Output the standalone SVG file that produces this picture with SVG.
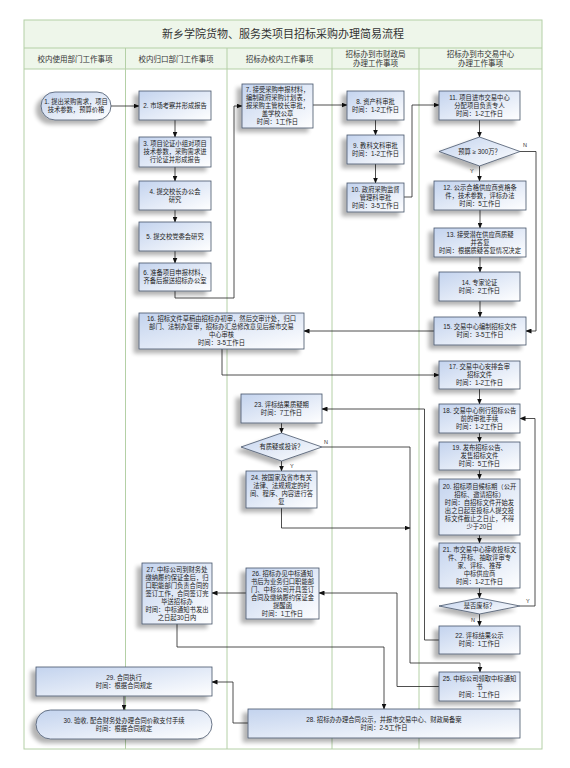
<svg xmlns="http://www.w3.org/2000/svg" width="570" height="768" viewBox="0 0 570 768">
<defs>
<linearGradient id="g" x1="0" y1="0" x2="1" y2="1">
<stop offset="0" stop-color="#c3d3ee"/>
<stop offset="1" stop-color="#ffffff"/>
</linearGradient>
<filter id="sh" x="-30%" y="-30%" width="160%" height="170%">
<feGaussianBlur in="SourceAlpha" stdDeviation="2"/>
<feOffset dx="-5" dy="4" result="b"/>
<feComponentTransfer><feFuncA type="linear" slope="0.3"/></feComponentTransfer>
<feMerge><feMergeNode/><feMergeNode in="SourceGraphic"/></feMerge>
</filter>
<marker id="a" markerWidth="6" markerHeight="5" refX="5.5" refY="2.5" orient="auto" markerUnits="userSpaceOnUse">
<path d="M0,0 L6,2.5 L0,5 Z" fill="#111"/>
</marker>
</defs>
<style>
.n{fill:url(#g);stroke:#46546a;stroke-width:0.8;filter:url(#sh)}
.t{font-family:"Liberation Sans","Noto Sans CJK SC",sans-serif;font-size:6.3px;fill:#222;text-anchor:middle}
.h{font-family:"Liberation Sans","Noto Sans CJK SC",sans-serif;font-size:7.5px;fill:#333;text-anchor:middle}
.l{font-family:"Liberation Sans","Noto Sans CJK SC",sans-serif;font-size:5.5px;fill:#333}
.c{fill:none;stroke:#222;stroke-width:0.8;marker-end:url(#a)}
.lane{stroke:#b4d0a6;stroke-width:1;fill:none}
</style>
<rect width="570" height="768" fill="#ffffff"/>
<g id="frame">
<rect x="24" y="20" width="518" height="28" fill="#eef6ea"/>
<rect x="24" y="48" width="518" height="21" fill="#eef6ea"/>
<rect x="24" y="20" width="518" height="729" class="lane"/>
<line x1="24" y1="48" x2="542" y2="48" class="lane"/>
<line x1="24" y1="69" x2="542" y2="69" class="lane"/>
<line x1="125.5" y1="48" x2="125.5" y2="749" class="lane"/>
<line x1="227" y1="48" x2="227" y2="749" class="lane"/>
<line x1="332" y1="48" x2="332" y2="749" class="lane"/>
<line x1="419" y1="48" x2="419" y2="749" class="lane"/>
<text x="283" y="38" class="h" style="font-size:11px">新乡学院货物、服务类项目招标采购办理简易流程</text>
<text x="75" y="61.5" class="h">校内使用部门工作事项</text>
<text x="176" y="61.5" class="h">校内归口部门工作事项</text>
<text x="279.5" y="61.5" class="h">招标办校内工作事项</text>
<text x="375.5" y="57" class="h">招标办到市财政局</text>
<text x="375.5" y="66" class="h">办理工作事项</text>
<text x="480.5" y="57" class="h">招标办到市交易中心</text>
<text x="480.5" y="66" class="h">办理工作事项</text>
</g>
<g id="connectors">
<polyline class="c" points="111,106 139,106"/>
<polyline class="c" points="175,120 175,137"/>
<polyline class="c" points="175,167 175,181"/>
<polyline class="c" points="175,210 175,222"/>
<polyline class="c" points="175,251 175,263"/>
<polyline class="c" points="175,291 175,298 234,298 234,106 242,106"/>
<polyline class="c" points="313,105 347,105"/>
<polyline class="c" points="375.5,120 375.5,135"/>
<polyline class="c" points="375.5,164 375.5,183"/>
<polyline class="c" points="404,197 412,197 412,105 439,105"/>
<polyline class="c" points="479.5,120 479.5,137"/>
<polyline class="c" points="479.5,166 479.5,181"/>
<polyline class="c" points="520,151.5 536,151.5 536,331 526,331"/>
<polyline class="c" points="480,210 480,228"/>
<polyline class="c" points="480,257 480,272"/>
<polyline class="c" points="480,301 480,317"/>
<polyline class="c" points="434,331 304,331"/>
<polyline class="c" points="222,349 222,375 439,375"/>
<polyline class="c" points="479.5,389 479.5,404"/>
<polyline class="c" points="479.5,433 479.5,442"/>
<polyline class="c" points="479.5,470 479.5,479"/>
<polyline class="c" points="479.5,535 479.5,543"/>
<polyline class="c" points="479.5,588 479.5,598"/>
<polyline class="c" points="520,606 535,606 535,418.5 520,418.5"/>
<polyline class="c" points="479.5,614 479.5,626"/>
<polyline class="c" points="439,640 424.5,640 424.5,409 322,409"/>
<polyline class="c" points="281.5,423 281.5,433"/>
<polyline class="c" points="322,447 410,447 410,663 480,663 480,672"/>
<polyline class="c" points="281.5,461 281.5,471"/>
<polyline class="c" points="281.5,508 281.5,528 410,528"/>
<polyline class="c" points="439,686.5 397,686.5 397,593 319,593"/>
<polyline class="c" points="246,593 212,593"/>
<polyline class="c" points="177,624 177,647 384,647 384,709"/>
<polyline class="c" points="248,723 233,723 233,682 212,682"/>
<polyline class="c" points="124,696 124,710"/>
<text x="470" y="173" class="l">Y</text>
<text x="523" y="147" class="l">N</text>
<text x="526" y="603" class="l">Y</text>
<text x="471" y="622" class="l">N</text>
<text x="324" y="444" class="l">N</text>
<text x="290" y="468" class="l">Y</text>
</g>
<g id="n1"><rect class="n" x="41" y="92" width="70" height="28" rx="14"/><text class="t" x="76" y="104.3">1. 提出采购需求，项目</text><text class="t" x="76" y="112.3">技术参数，预算价格</text></g>
<g id="n2"><rect class="n" x="139" y="91" width="72" height="29"/><text class="t" x="175" y="107.8">2. 市场考察并形成报告</text></g>
<g id="n3"><rect class="n" x="139" y="137" width="72" height="30"/><text class="t" x="175" y="146.3">3. 项目论证小组对项目</text><text class="t" x="175" y="154.3">技术参数，采购需求进</text><text class="t" x="175" y="162.3">行论证并形成报告</text></g>
<g id="n4"><rect class="n" x="139" y="181" width="72" height="29"/><text class="t" x="175" y="193.8">4. 提交校长办公会</text><text class="t" x="175" y="201.8">研究</text></g>
<g id="n5"><rect class="n" x="139" y="222" width="72" height="29"/><text class="t" x="175" y="238.8">5. 提交校党委会研究</text></g>
<g id="n6"><rect class="n" x="139" y="263" width="72" height="28"/><text class="t" x="175" y="275.3">6. 准备项目申报材料，</text><text class="t" x="175" y="283.3">齐备后报送招标办公室</text></g>
<g id="n7"><rect class="n" x="242" y="84" width="71" height="44"/><text class="t" x="277.5" y="92.3">7. 接受采购申报材料，</text><text class="t" x="277.5" y="100.3">编制政府采购计划表，</text><text class="t" x="277.5" y="108.3">报采购主管校长审批，</text><text class="t" x="277.5" y="116.3">盖学校公章</text><text class="t" x="277.5" y="124.3">时间：1工作日</text></g>
<g id="n8"><rect class="n" x="347" y="91" width="57" height="29"/><text class="t" x="375.5" y="103.8">8. 资产科审批</text><text class="t" x="375.5" y="111.8">时间：1-2工作日</text></g>
<g id="n9"><rect class="n" x="347" y="135" width="57" height="29"/><text class="t" x="375.5" y="147.8">9. 教科文科审批</text><text class="t" x="375.5" y="155.8">时间：1-2工作日</text></g>
<g id="n10"><rect class="n" x="347" y="183" width="57" height="29"/><text class="t" x="375.5" y="191.8">10. 政府采购监督</text><text class="t" x="375.5" y="199.8">管理科审批</text><text class="t" x="375.5" y="207.8">时间：3-5工作日</text></g>
<g id="n11"><rect class="n" x="439" y="91" width="81" height="29"/><text class="t" x="479.5" y="99.8">11. 项目进市交易中心</text><text class="t" x="479.5" y="107.8">分配项目负责专人</text><text class="t" x="479.5" y="115.8">时间：1-2工作日</text></g>
<g id="d1"><polygon class="n" points="439,151.5 479.5,137 520,151.5 479.5,166"/><text class="t" x="479.5" y="153.8">预算 ≥ 300万？</text></g>
<g id="n12"><rect class="n" x="434" y="181" width="92" height="29"/><text class="t" x="480" y="189.8">12. 公示合格供应商资格条</text><text class="t" x="480" y="197.8">件，技术参数，评标办法</text><text class="t" x="480" y="205.8">时间：5工作日</text></g>
<g id="n13"><rect class="n" x="434" y="228" width="92" height="29"/><text class="t" x="480" y="236.8">13. 接受潜在供应商质疑</text><text class="t" x="480" y="244.8">并答复</text><text class="t" x="480" y="252.8">时间：根据质疑答复情况决定</text></g>
<g id="n14"><rect class="n" x="439" y="272" width="81" height="29"/><text class="t" x="479.5" y="284.8">14. 专家论证</text><text class="t" x="479.5" y="292.8">时间：2工作日</text></g>
<g id="n15"><rect class="n" x="434" y="317" width="92" height="28"/><text class="t" x="480" y="329.3">15. 交易中心编制招标文件</text><text class="t" x="480" y="337.3">时间：3-5工作日</text></g>
<g id="n16"><rect class="n" x="139" y="313" width="165" height="36"/><text class="t" x="221.5" y="321.3">16. 招标文件草稿由招标办初审，然后交审计处，归口</text><text class="t" x="221.5" y="329.3">部门、法制办复审，招标办汇总修改意见后报市交易</text><text class="t" x="221.5" y="337.3">中心审核</text><text class="t" x="221.5" y="345.3">时间：3-5工作日</text></g>
<g id="n17"><rect class="n" x="439" y="361" width="81" height="28"/><text class="t" x="479.5" y="369.3">17. 交易中心安排会审</text><text class="t" x="479.5" y="377.3">招标文件</text><text class="t" x="479.5" y="385.3">时间：1-2工作日</text></g>
<g id="n18"><rect class="n" x="439" y="404" width="81" height="29"/><text class="t" x="479.5" y="412.8">18. 交易中心例行招标公告</text><text class="t" x="479.5" y="420.8">前的审批手续</text><text class="t" x="479.5" y="428.8">时间：1-2工作日</text></g>
<g id="n19"><rect class="n" x="439" y="442" width="81" height="28"/><text class="t" x="479.5" y="450.3">19. 发布招标公告、</text><text class="t" x="479.5" y="458.3">发售招标文件</text><text class="t" x="479.5" y="466.3">时间：5工作日</text></g>
<g id="n20"><rect class="n" x="439" y="479" width="81" height="56"/><text class="t" x="479.5" y="489.3">20. 招标项目候标期（公开</text><text class="t" x="479.5" y="497.3">招标、邀请招标）</text><text class="t" x="479.5" y="505.3">时间：自招标文件开始发</text><text class="t" x="479.5" y="513.3">出之日起至投标人提交投</text><text class="t" x="479.5" y="521.3">标文件截止之日止，不得</text><text class="t" x="479.5" y="529.3">少于20日</text></g>
<g id="n21"><rect class="n" x="439" y="543" width="81" height="45"/><text class="t" x="479.5" y="551.8">21. 市交易中心接收投标文</text><text class="t" x="479.5" y="559.8">件、开标、抽取评审专</text><text class="t" x="479.5" y="567.8">家、评标、推荐</text><text class="t" x="479.5" y="575.8">中标供应商</text><text class="t" x="479.5" y="583.8">时间：1-2工作日</text></g>
<g id="d2"><polygon class="n" points="439,606 479.5,598 520,606 479.5,614"/><text class="t" x="479.5" y="608.3">是否废标？</text></g>
<g id="n22"><rect class="n" x="439" y="626" width="81" height="28"/><text class="t" x="479.5" y="638.3">22. 评标结果公示</text><text class="t" x="479.5" y="646.3">时间：1工作日</text></g>
<g id="n23"><rect class="n" x="241" y="394" width="81" height="29"/><text class="t" x="281.5" y="406.8">23. 评标结果质疑期</text><text class="t" x="281.5" y="414.8">时间：7工作日</text></g>
<g id="d3"><polygon class="n" points="241,447 281.5,433 322,447 281.5,461"/><text class="t" x="281.5" y="449.3">有质疑或投诉？</text></g>
<g id="n24"><rect class="n" x="246" y="471" width="71" height="37"/><text class="t" x="281.5" y="479.8">24. 按国家及省市有关</text><text class="t" x="281.5" y="487.8">法律、法规规定的时</text><text class="t" x="281.5" y="495.8">间、程序、内容进行答</text><text class="t" x="281.5" y="503.8">复</text></g>
<g id="n25"><rect class="n" x="439" y="672" width="81" height="29"/><text class="t" x="479.5" y="680.8">25. 中标公司领取中标通知</text><text class="t" x="479.5" y="688.8">书</text><text class="t" x="479.5" y="696.8">时间：1工作日</text></g>
<g id="n26"><rect class="n" x="246" y="568" width="73" height="51"/><text class="t" x="282.5" y="575.8">26. 招标办见中标通知</text><text class="t" x="282.5" y="583.8">书后为业务归口职能部</text><text class="t" x="282.5" y="591.8">门、中标公司开具签订</text><text class="t" x="282.5" y="599.8">合同及缴纳履约保证金</text><text class="t" x="282.5" y="607.8">提醒函</text><text class="t" x="282.5" y="615.8">时间：1工作日</text></g>
<g id="n27"><rect class="n" x="142" y="563" width="70" height="61"/><text class="t" x="177" y="571.8">27. 中标公司到财务处</text><text class="t" x="177" y="579.8">缴纳履约保证金后，归</text><text class="t" x="177" y="587.8">口职能部门负责合同的</text><text class="t" x="177" y="595.8">签订工作，合同签订完</text><text class="t" x="177" y="603.8">毕送招标办</text><text class="t" x="177" y="611.8">时间：中标通知书发出</text><text class="t" x="177" y="619.8">之日起30日内</text></g>
<g id="n28"><rect class="n" x="248" y="709" width="272" height="29"/><text class="t" x="384" y="721.8">28. 招标办办理合同公示，并报市交易中心、财政局备案</text><text class="t" x="384" y="729.8">时间：2-5工作日</text></g>
<g id="n29"><rect class="n" x="36" y="667" width="176" height="29"/><text class="t" x="124" y="679.8">29. 合同执行</text><text class="t" x="124" y="687.8">时间：根据合同规定</text></g>
<g id="n30"><rect class="n" x="36" y="710" width="176" height="29" rx="14.5"/><text class="t" x="124" y="722.8">30. 验收, 配合财务处办理合同价款支付手续</text><text class="t" x="124" y="730.8">时间：根据合同规定</text></g>
</svg>
